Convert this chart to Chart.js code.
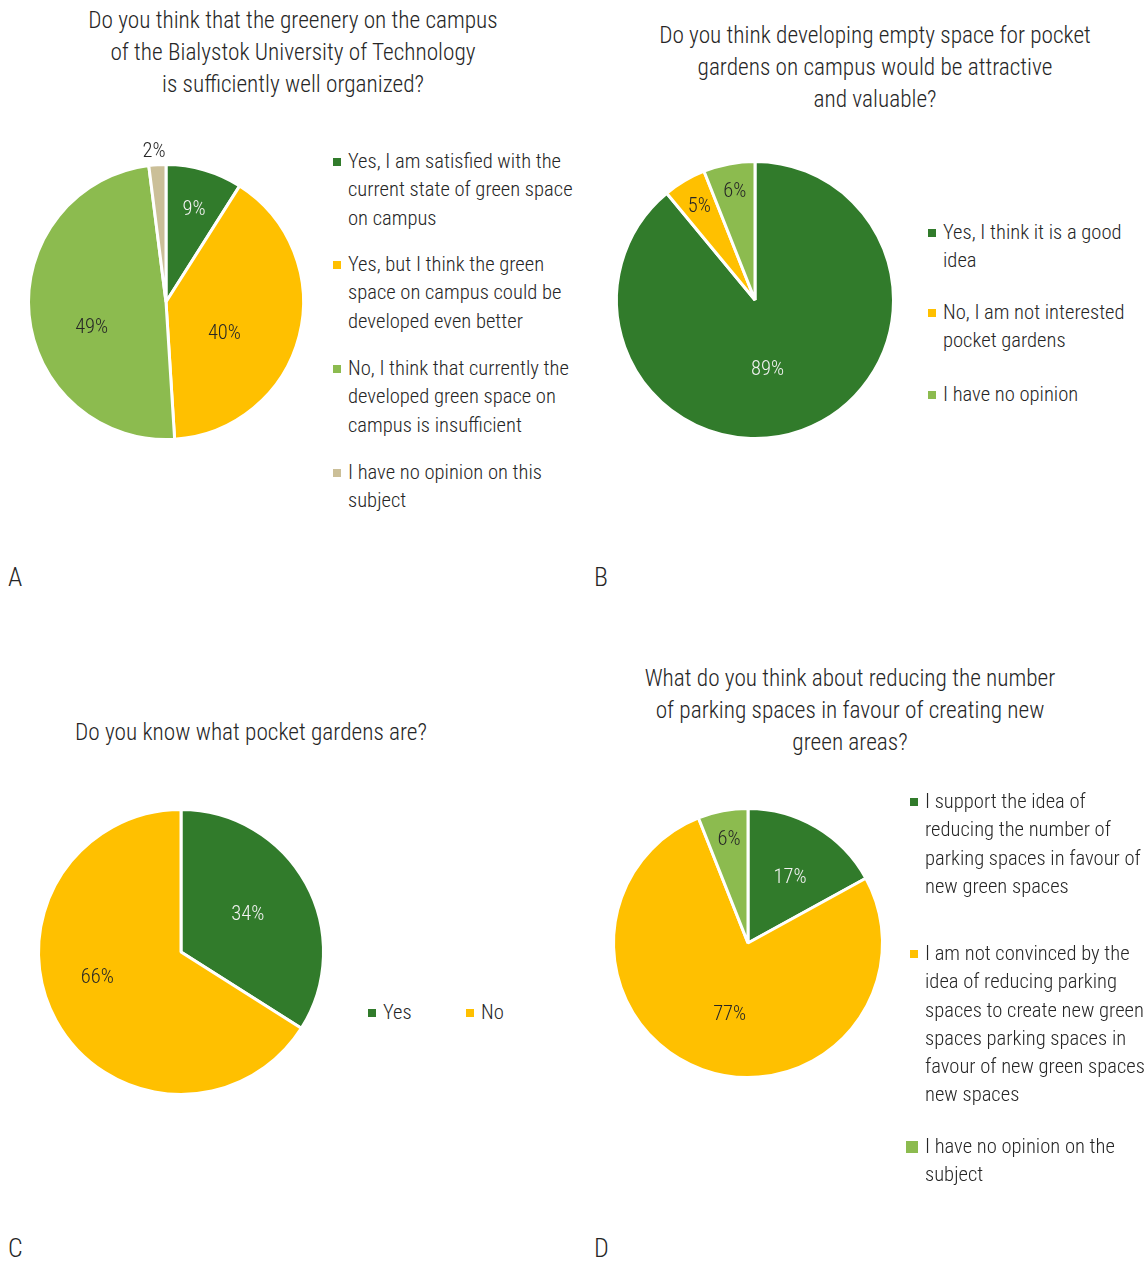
<!DOCTYPE html>
<html>
<head>
<meta charset="utf-8">
<script src="https://cdn.jsdelivr.net/npm/chart.js@4.4.1/dist/chart.umd.min.js"></script>
<style>
  body {
    margin: 0;
    background: #fff;
    width: 1147px;
    height: 1261px;
    position: relative;
    overflow: hidden;
    font-family: "Roboto Condensed", "Liberation Sans Narrow", Roboto, sans-serif;
    font-weight: 300;
    font-stretch: condensed;
    color: #262626;
  }
  .title { position: absolute; width: 600px; text-align: center; font-size: 23.3px; line-height: 32px; white-space: nowrap; }
  .leg { position: absolute; font-size: 20.6px; line-height: 28.3px; white-space: nowrap; }
  .leg i { position: absolute; }
  .panel { position: absolute; font-size: 26px; line-height: 30px; }
  canvas { position: absolute; }
</style>
</head>
<body>
<div id="root"></div>
<script>
const FONT = '"Roboto Condensed", "Liberation Sans Narrow", Roboto, sans-serif';

const dark = "#317b2b";
const yellow = "#ffc000";
const light = "#8cbb4f";
const tan = "#cbbf98";

// A
const titleA = ["Do you think that the greenery on the campus", "of the Bialystok University of Technology", "is sufficiently well organized?"];
const catsA = [
  ["Yes, I am satisfied with the", "current state of green space", "on campus"],
  ["Yes, but I think the green", "space on campus could be", "developed even better"],
  ["No, I think that currently the", "developed green space on", "campus is insufficient"],
  ["I have no opinion on this", "subject"]
];
const valsA = [9, 40, 49, 2];

// B
const titleB = ["Do you think developing empty space for pocket", "gardens on campus would be attractive", "and valuable?"];
const catsB = [
  ["Yes, I think it is a good", "idea"],
  ["No, I am not interested", "pocket gardens"],
  ["I have no opinion"]
];
const valsB = [89, 5, 6];

// C
const titleC = ["Do you know what pocket gardens are?"];
const catsC = [["Yes"], ["No"]];
const valsC = [34, 66];

// D
const titleD = ["What do you think about reducing the number", "of parking spaces in favour of creating new", "green areas?"];
const catsD = [
  ["I support the idea of", "reducing the number of", "parking spaces in favour of", "new green spaces"],
  ["I am not convinced by the", "idea of reducing parking", "spaces to create new green", "spaces parking spaces in", "favour of new green spaces", "new spaces"],
  ["I have no opinion on the", "subject"]
];
const valsD = [17, 77, 6];

const root = document.getElementById("root");

function addDiv(cls, html, left, top) {
  const d = document.createElement("div");
  d.className = cls;
  d.innerHTML = html;
  d.style.left = left + "px";
  d.style.top = top + "px";
  root.appendChild(d);
  return d;
}

function addTitle(lines, cx, y) {
  addDiv("title", lines.join("<br>"), cx - 300, y - 16);
}

function addLegend(cats, colors, x, tops, sizes) {
  cats.forEach((c, i) => {
    const d = addDiv("leg", c.join("<br>"), x, tops[i] - 14);
    const m = document.createElement("i");
    m.style.background = colors[i];
    const s = sizes ? sizes[i] : 8;
    m.style.width = s + "px";
    m.style.height = s + "px";
    m.style.left = (-7 - s) + "px";
    m.style.top = (15 - s / 2) + "px";
    d.prepend(m);
  });
}

const pctLabels = {
  id: "pctLabels",
  afterDatasetsDraw(chart, args, opts) {
    const ctx = chart.ctx;
    const data = chart.data.datasets[0].data;
    chart.getDatasetMeta(0).data.forEach((arc, i) => {
      const p = arc.getProps(["x", "y", "startAngle", "endAngle", "outerRadius"], true);
      const [t, f] = opts.at[i];
      const a = p.startAngle + (p.endAngle - p.startAngle) * t;
      const d = (p.outerRadius - 1.5) * f;
      ctx.save();
      ctx.font = "300 20.5px " + FONT;
      ctx.fillStyle = opts.colors[i];
      ctx.textAlign = "center";
      ctx.textBaseline = "middle";
      ctx.fillText(data[i] + "%", p.x + Math.cos(a) * d, p.y + Math.sin(a) * d);
      ctx.restore();
    });
  }
};

function makePie(cx, cy, r, labels, vals, colors, at, textColors) {
  const cv = document.createElement("canvas");
  cv.width = 360;
  cv.height = 360;
  cv.style.left = (cx - 180) + "px";
  cv.style.top = (cy - 180) + "px";
  root.appendChild(cv);
  return new Chart(cv.getContext("2d"), {
    type: "pie",
    data: {
      labels: labels.map(l => l.join(" ")),
      datasets: [{ data: vals, backgroundColor: colors, borderColor: "#fff", borderWidth: 3 }]
    },
    options: {
      responsive: false,
      animation: false,
      events: [],
      radius: r + 1.5,
      layout: { padding: 0 },
      plugins: {
        legend: { display: false },
        tooltip: { enabled: false },
        pctLabels: { at: at, colors: textColors }
      }
    },
    plugins: [pctLabels]
  });
}

const txtLight = "#f2f2f2";
const txtDark = "#262626";

// A
addTitle(titleA, 293, 20);
makePie(166, 302, 136, catsA, valsA, [dark, yellow, light, tan],
  [[0.52, 0.71], [0.60, 0.49], [0.42, 0.58], [0.37, 1.11]],
  [txtLight, txtDark, txtDark, txtDark]);
addLegend(catsA, [dark, yellow, light, tan], 348, [161, 264, 368, 472]);
addDiv("panel", "A", 8, 562);

// B
addTitle(titleB, 875, 35);
makePie(755, 300, 137, catsB, valsB, [dark, yellow, light],
  [[0.53, 0.52], [0.48, 0.79], [0.51, 0.80]],
  [txtLight, txtDark, txtDark]);
addLegend(catsB, [dark, yellow, light], 943, [232, 312, 394]);
addDiv("panel", "B", 594, 562);

// C
addTitle(titleC, 251, 732);
makePie(181, 952, 141, catsC, valsC, [dark, yellow],
  [[0.50, 0.54], [0.55, 0.62]],
  [txtLight, txtDark]);
addLegend([catsC[0]], [dark], 383, [1012]);
addLegend([catsC[1]], [yellow], 481, [1012]);
addDiv("panel", "C", 8, 1233);

// D
addTitle(titleD, 850, 678);
makePie(748, 943, 133, catsD, valsD, [dark, yellow, light],
  [[0.54, 0.58], [0.48, 0.56], [0.52, 0.79]],
  [txtLight, txtDark, txtDark]);
addLegend(catsD, [dark, yellow, light], 925, [801, 953, 1146], [8, 8, 12]);
addDiv("panel", "D", 594, 1233);
</script>
</body>
</html>
